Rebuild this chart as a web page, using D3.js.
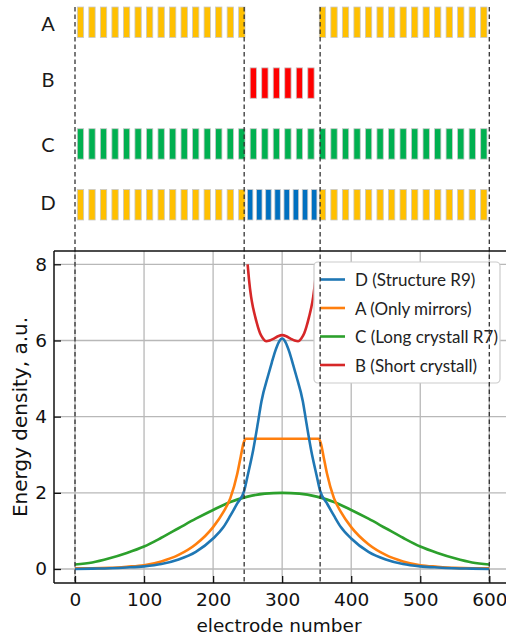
<!DOCTYPE html>
<html>
<head>
<meta charset="utf-8">
<script src="https://cdn.jsdelivr.net/npm/d3@7"></script>
<style>
  html, body { margin: 0; padding: 0; background: #fff; }
  svg { display: block; }
</style>
</head>
<body>
<svg id="chart" width="506" height="637"></svg>
<script>
// ---------------- DATA ----------------
const xTicks = [0, 100, 200, 300, 400, 500, 600];
const yTicks = [0, 2, 4, 6, 8];
const boundaries = [0, 245, 355, 600];

// schematic electrode rows
const rowNames = ["A", "B", "C", "D"];
const electrodeSlots = 36;
const rowAElectrodes = [0,1,2,3,4,5,6,7,8,9,10,11,12,13,14,21,22,23,24,25,26,27,28,29,30,31,32,33,34,35];
const rowBElectrodes = [15,16,17,18,19,20];
const rowCElectrodes = [0,1,2,3,4,5,6,7,8,9,10,11,12,13,14,15,16,17,18,19,20,21,22,23,24,25,26,27,28,29,30,31,32,33,34,35];
const rowDMirrorElectrodes = [0,1,2,3,4,5,6,7,8,9,10,11,12,13,14,21,22,23,24,25,26,27,28,29,30,31,32,33,34,35];
const rowDCrystalElectrodes = [0,1,2,3,4,5,6,7];

// curves (electrode number -> energy density)
const dX = [0,25,50,75,100,125,150,175,200,215,225,235,245,250,258,265,270,280,285,290,295,300,305,310,315,320,330,335,342,350,355,365,375,385,400,425,450,475,500,525,550,575,600];
const dY = [0,0.01,0.02,0.04,0.07,0.13,0.25,0.45,0.8,1.1,1.4,1.72,2.05,2.45,3.12,3.85,4.4,5.1,5.42,5.72,5.95,6.05,5.95,5.72,5.42,5.1,4.4,3.85,3.12,2.45,2.05,1.72,1.4,1.1,0.8,0.45,0.25,0.13,0.07,0.04,0.02,0.01,0];

const aX = [0,25,50,75,100,125,150,175,200,215,225,235,240,244,247,300,353,356,360,365,375,385,400,425,450,475,500,525,550,575,600];
const aY = [0.02,0.02,0.03,0.06,0.1,0.2,0.37,0.65,1.1,1.5,1.86,2.5,2.95,3.3,3.42,3.42,3.42,3.3,2.95,2.5,1.86,1.5,1.1,0.65,0.37,0.2,0.1,0.06,0.03,0.02,0.02];

const cX = [0,25,50,75,100,125,150,175,200,225,250,275,300,325,350,375,400,425,450,475,500,525,550,575,600];
const cY = [0.12,0.17,0.28,0.42,0.59,0.82,1.07,1.32,1.55,1.76,1.9,1.98,2.0,1.98,1.9,1.76,1.55,1.32,1.07,0.82,0.59,0.42,0.28,0.17,0.12];

const bX = [250,252,255,258,261,265,268,272,277,282,288,294,300,306,312,318,323,328,332,335,339,342,345,348,350];
const bY = [8.0,7.6,7.15,6.85,6.62,6.35,6.19,6.06,5.98,6.0,6.05,6.11,6.14,6.11,6.05,6.0,5.98,6.06,6.19,6.35,6.62,6.85,7.15,7.6,8.0];

const legendLabels = ["D (Structure R9)", "A (Only mirrors)", "C (Long crystall R7)", "B (Short crystall)"];

// ---------------- STYLE / LAYOUT ----------------
const C = { blue: "#1f77b4", orange: "#ff7f0e", green: "#2ca02c", red: "#d62728",
            yellow: "#FFC000", eGreen: "#00B050", eRed: "#FF0000", eBlue: "#0070C0" };
const frame = { left: 54, top: 251, bottom: 583, right: 520 };

const svg = d3.select("#chart");
const x = d3.scaleLinear().domain([0, 600]).range([75, 489.3]);
const y = d3.scaleLinear().domain([0, 8]).range([569, 264.3]);

// ---------------- SCHEMATIC ----------------
const rowScale = d3.scaleBand().domain(rowNames).range([7, 220]).paddingInner(0.5).paddingOuter(0);
const slot = d3.scaleBand().domain(d3.range(electrodeSlots)).range([x(0), x(600)]).paddingInner(0.45).paddingOuter(0.2);
const crystalSlot = d3.scaleBand().domain(d3.range(8)).range([x(245), x(355)]).paddingInner(0.4).paddingOuter(0.35);

function drawRow(row, idx, scale, fill) {
  svg.append("g").selectAll("rect").data(idx).join("rect")
    .attr("x", d => scale(d)).attr("width", scale.bandwidth())
    .attr("y", rowScale(row)).attr("height", rowScale.bandwidth())
    .attr("fill", fill).attr("stroke", "#c8c8c8").attr("stroke-width", 0.8);
}
drawRow("A", rowAElectrodes, slot, C.yellow);
drawRow("B", rowBElectrodes, slot, C.eRed);
drawRow("C", rowCElectrodes, slot, C.eGreen);
drawRow("D", rowDMirrorElectrodes, slot, C.yellow);
drawRow("D", rowDCrystalElectrodes, crystalSlot, C.eBlue);

const labelShift = { A: 1, B: -4, C: 0, D: -3 };
svg.append("g").selectAll("text").data(rowNames).join("text")
  .attr("x", 48).attr("y", d => rowScale(d) + rowScale.bandwidth() / 2 + labelShift[d])
  .attr("text-anchor", "middle").attr("dominant-baseline", "central")
  .attr("font-family", "Lato, 'Open Sans', sans-serif").attr("font-size", 20)
  .attr("fill", "#1a1a1a").text(d => d);

// ---------------- PLOT ----------------
svg.append("clipPath").attr("id", "plotclip").append("rect")
  .attr("x", frame.left).attr("y", frame.top).attr("width", frame.right - frame.left).attr("height", frame.bottom - frame.top);

const grid = svg.append("g").attr("stroke", "#b8b8b8").attr("stroke-width", 1.3);
grid.selectAll(".gx").data(xTicks).join("line")
  .attr("x1", d => x(d)).attr("x2", d => x(d)).attr("y1", frame.top).attr("y2", frame.bottom);
grid.selectAll(".gy").data(yTicks).join("line")
  .attr("x1", frame.left).attr("x2", frame.right).attr("y1", d => y(d)).attr("y2", d => y(d));

const line = d3.line().x(d => x(d[0])).y(d => y(d[1])).curve(d3.curveMonotoneX);
const series = [
  { xs: cX, ys: cY, color: C.green },
  { xs: aX, ys: aY, color: C.orange },
  { xs: dX, ys: dY, color: C.blue },
  { xs: bX, ys: bY, color: C.red }
];
const curves = svg.append("g").attr("clip-path", "url(#plotclip)");
series.forEach(s => {
  curves.append("path").datum(d3.zip(s.xs, s.ys))
    .attr("d", line).attr("fill", "none").attr("stroke", s.color)
    .attr("stroke-width", 2.6).attr("stroke-linejoin", "round");
});

// legend
const lg = svg.append("g");
lg.append("rect").attr("x", 314).attr("y", 262).attr("width", 186).attr("height", 121)
  .attr("rx", 4).attr("fill", "#fff").attr("stroke", "#cccccc").attr("stroke-width", 1.2);
const legendColors = [C.blue, C.orange, C.green, C.red];
const legendRow = d3.scalePoint().domain(legendLabels).range([279.5, 365]);
legendLabels.forEach((t, i) => {
  const yy = legendRow(t);
  lg.append("line").attr("x1", 320).attr("x2", 345).attr("y1", yy).attr("y2", yy)
    .attr("stroke", legendColors[i]).attr("stroke-width", 2.6);
  lg.append("text").attr("x", 355).attr("y", yy).attr("dominant-baseline", "central")
    .attr("font-family", "Lato, 'Open Sans', sans-serif").attr("font-size", 17)
    .attr("fill", "#222").text(t);
});

// dashed boundaries
svg.append("g").selectAll("line").data(boundaries).join("line")
  .attr("x1", d => x(d)).attr("x2", d => x(d)).attr("y1", 7).attr("y2", frame.bottom)
  .attr("stroke", "#333").attr("stroke-width", 1.3).attr("stroke-dasharray", "4.5,3");

// spines
const sp = svg.append("g").attr("stroke", "#111").attr("stroke-width", 1.5);
sp.append("line").attr("x1", frame.left).attr("x2", frame.left).attr("y1", frame.top).attr("y2", frame.bottom);
sp.append("line").attr("x1", frame.left).attr("x2", frame.right).attr("y1", frame.top).attr("y2", frame.top);
sp.append("line").attr("x1", frame.left).attr("x2", frame.right).attr("y1", frame.bottom).attr("y2", frame.bottom);

// axes with inward ticks
const xAxis = d3.axisBottom(x).tickValues(xTicks).tickSizeInner(-7).tickSizeOuter(0).tickPadding(10);
const gx = svg.append("g").attr("transform", `translate(0,${frame.bottom})`).call(xAxis);
gx.select(".domain").remove();
gx.selectAll("line").attr("stroke", "#111").attr("stroke-width", 1.3);
gx.selectAll("text").attr("font-family", "'DejaVu Sans', sans-serif").attr("font-size", 18.5).attr("fill", "#111");

const yAxis = d3.axisLeft(y).tickValues(yTicks).tickSizeInner(-7).tickSizeOuter(0).tickPadding(7);
const gy = svg.append("g").attr("transform", `translate(${frame.left},0)`).call(yAxis);
gy.select(".domain").remove();
gy.selectAll("line").attr("stroke", "#111").attr("stroke-width", 1.3);
gy.selectAll("text").attr("font-family", "'DejaVu Sans', sans-serif").attr("font-size", 18.5).attr("fill", "#111");

svg.append("text").attr("x", (frame.left + 504) / 2).attr("y", 632)
  .attr("text-anchor", "middle").attr("font-family", "'DejaVu Sans', sans-serif")
  .attr("font-size", 18.5).attr("fill", "#111").text("electrode number");
svg.append("text").attr("transform", `translate(27,${(frame.top + frame.bottom) / 2}) rotate(-90)`)
  .attr("text-anchor", "middle").attr("font-family", "'DejaVu Sans', sans-serif")
  .attr("font-size", 20).attr("fill", "#111").text("Energy density, a.u.");
</script>
</body>
</html>
